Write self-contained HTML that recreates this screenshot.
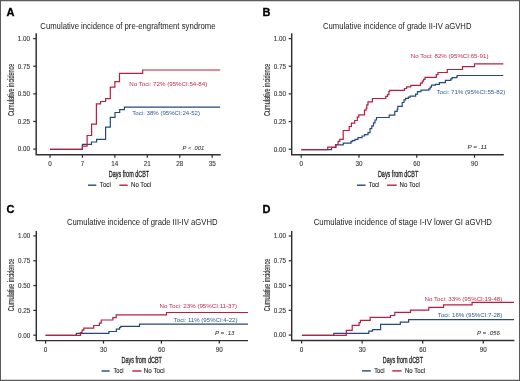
<!DOCTYPE html>
<html><head><meta charset="utf-8"><title>Cumulative incidence</title>
<style>
html,body{margin:0;padding:0;background:#fff;}
body{width:520px;height:381px;overflow:hidden;position:relative;font-family:"Liberation Sans", sans-serif;}
svg{position:absolute;left:0;top:0;filter:blur(0.45px);}
svg text{font-family:"Liberation Sans", sans-serif;}
</style></head><body>
<svg width="520" height="381" viewBox="0 0 520 381">
<rect x="0" y="0" width="520" height="381" fill="#fff"/>
<text x="6.4" y="15.9" font-size="10.2" font-weight="bold" fill="#000" stroke="#000" stroke-width="0.3" transform="translate(6.4,15.9) scale(1.08,1) translate(-6.4,-15.9)">A</text>
<text x="40.3" y="28.8" font-size="8.4" fill="#222" textLength="175.3" lengthAdjust="spacingAndGlyphs">Cumulative incidence of pre-engraftment syndrome</text>
<path d="M36.2,33.3 V154.8 H220.7" fill="none" stroke="#303030" stroke-width="1.45"/>
<path d="M33.2,149.1 H36.2" stroke="#303030" stroke-width="1.25"/>
<text x="30.1" y="151.4" font-size="6.3" fill="#3a3a3a" stroke="#3a3a3a" stroke-width="0.12" text-anchor="end">0.00</text>
<path d="M33.2,121.47 H36.2" stroke="#303030" stroke-width="1.25"/>
<text x="30.1" y="123.77" font-size="6.3" fill="#3a3a3a" stroke="#3a3a3a" stroke-width="0.12" text-anchor="end">0.25</text>
<path d="M33.2,93.85 H36.2" stroke="#303030" stroke-width="1.25"/>
<text x="30.1" y="96.15" font-size="6.3" fill="#3a3a3a" stroke="#3a3a3a" stroke-width="0.12" text-anchor="end">0.50</text>
<path d="M33.2,66.22 H36.2" stroke="#303030" stroke-width="1.25"/>
<text x="30.1" y="68.52" font-size="6.3" fill="#3a3a3a" stroke="#3a3a3a" stroke-width="0.12" text-anchor="end">0.75</text>
<path d="M33.2,38.6 H36.2" stroke="#303030" stroke-width="1.25"/>
<text x="30.1" y="40.9" font-size="6.3" fill="#3a3a3a" stroke="#3a3a3a" stroke-width="0.12" text-anchor="end">1.00</text>
<path d="M50,154.8 V157.8" stroke="#303030" stroke-width="1.25"/>
<text x="50" y="166" font-size="6.3" fill="#3a3a3a" stroke="#3a3a3a" stroke-width="0.12" text-anchor="middle">0</text>
<path d="M82.44,154.8 V157.8" stroke="#303030" stroke-width="1.25"/>
<text x="82.44" y="166" font-size="6.3" fill="#3a3a3a" stroke="#3a3a3a" stroke-width="0.12" text-anchor="middle">7</text>
<path d="M114.88,154.8 V157.8" stroke="#303030" stroke-width="1.25"/>
<text x="114.88" y="166" font-size="6.3" fill="#3a3a3a" stroke="#3a3a3a" stroke-width="0.12" text-anchor="middle">14</text>
<path d="M147.31,154.8 V157.8" stroke="#303030" stroke-width="1.25"/>
<text x="147.31" y="166" font-size="6.3" fill="#3a3a3a" stroke="#3a3a3a" stroke-width="0.12" text-anchor="middle">21</text>
<path d="M179.75,154.8 V157.8" stroke="#303030" stroke-width="1.25"/>
<text x="179.75" y="166" font-size="6.3" fill="#3a3a3a" stroke="#3a3a3a" stroke-width="0.12" text-anchor="middle">28</text>
<path d="M212.19,154.8 V157.8" stroke="#303030" stroke-width="1.25"/>
<text x="212.19" y="166" font-size="6.3" fill="#3a3a3a" stroke="#3a3a3a" stroke-width="0.12" text-anchor="middle">35</text>
<text x="108.8" y="177.3" font-size="8.7" font-weight="normal" fill="#2b2b2b" stroke="#2b2b2b" stroke-width="0.32" textLength="40.4" lengthAdjust="spacingAndGlyphs">Days from dCBT</text>
<text transform="translate(14.4,116) rotate(-90)" x="0" y="0" font-size="9.0" font-weight="normal" fill="#2b2b2b" stroke="#2b2b2b" stroke-width="0.15" textLength="52.4" lengthAdjust="spacingAndGlyphs">Cumulative incidence</text>
<path d="M50,149.4 H82.4 V144.4 H91.5 V142 H96.6 V139.4 H105.6 V127.2 H110.3 V117.4 H115 V112.5 H119.7 V109.7 H124.4 V107.2 H220.2" fill="none" stroke="#25497a" stroke-width="1.2"/>
<path d="M50,149.4 H82.4 V146.1 H87.1 V135.5 H91.6 V124.2 H96.4 V103.8 H100.6 V101.5 H105.6 V98.7 H110.3 V87.1 H114.9 V81.6 H119.5 V73.4 H142.7 V70.0 H220.2" fill="none" stroke="#b81e40" stroke-width="1.2"/>
<text x="129.2" y="85.7" font-size="6.15" fill="#c42a4c" textLength="78.1" lengthAdjust="spacingAndGlyphs">No Toci: 72% (95%CI:54-84)</text>
<text x="132.3" y="115.4" font-size="6.15" fill="#2d5a92" textLength="67.7" lengthAdjust="spacingAndGlyphs">Toci: 38% (95%CI:24-52)</text>
<text x="182.6" y="149.6" font-size="6.15" fill="#222" textLength="21.7" lengthAdjust="spacingAndGlyphs" font-style="italic">P &lt; .001</text>
<path d="M88,185.2 H96.3" stroke="#25497a" stroke-width="1.4"/>
<path d="M119.4,185.2 H127.7" stroke="#b81e40" stroke-width="1.4"/>
<text x="99.8" y="187.3" font-size="6.3" fill="#222" stroke="#222" stroke-width="0.1" textLength="11" lengthAdjust="spacingAndGlyphs">Toci</text>
<text x="131" y="187.3" font-size="6.3" fill="#222" stroke="#222" stroke-width="0.1" textLength="20.2" lengthAdjust="spacingAndGlyphs">No Toci</text>
<text x="262.4" y="15.9" font-size="10.2" font-weight="bold" fill="#000" stroke="#000" stroke-width="0.3" transform="translate(262.4,15.9) scale(1.08,1) translate(-262.4,-15.9)">B</text>
<text x="323" y="28.8" font-size="8.4" fill="#222" textLength="148.5" lengthAdjust="spacingAndGlyphs">Cumulative incidence of grade II-IV aGVHD</text>
<path d="M291.7,33.3 V154.8 H503.8" fill="none" stroke="#303030" stroke-width="1.45"/>
<path d="M288.7,149.2 H291.7" stroke="#303030" stroke-width="1.25"/>
<text x="286.1" y="151.5" font-size="6.3" fill="#3a3a3a" stroke="#3a3a3a" stroke-width="0.12" text-anchor="end">0.00</text>
<path d="M288.7,121.55 H291.7" stroke="#303030" stroke-width="1.25"/>
<text x="286.1" y="123.85" font-size="6.3" fill="#3a3a3a" stroke="#3a3a3a" stroke-width="0.12" text-anchor="end">0.25</text>
<path d="M288.7,93.9 H291.7" stroke="#303030" stroke-width="1.25"/>
<text x="286.1" y="96.2" font-size="6.3" fill="#3a3a3a" stroke="#3a3a3a" stroke-width="0.12" text-anchor="end">0.50</text>
<path d="M288.7,66.25 H291.7" stroke="#303030" stroke-width="1.25"/>
<text x="286.1" y="68.55" font-size="6.3" fill="#3a3a3a" stroke="#3a3a3a" stroke-width="0.12" text-anchor="end">0.75</text>
<path d="M288.7,38.6 H291.7" stroke="#303030" stroke-width="1.25"/>
<text x="286.1" y="40.9" font-size="6.3" fill="#3a3a3a" stroke="#3a3a3a" stroke-width="0.12" text-anchor="end">1.00</text>
<path d="M301.2,154.8 V157.8" stroke="#303030" stroke-width="1.25"/>
<text x="301.2" y="166" font-size="6.3" fill="#3a3a3a" stroke="#3a3a3a" stroke-width="0.12" text-anchor="middle">0</text>
<path d="M358.97,154.8 V157.8" stroke="#303030" stroke-width="1.25"/>
<text x="358.97" y="166" font-size="6.3" fill="#3a3a3a" stroke="#3a3a3a" stroke-width="0.12" text-anchor="middle">30</text>
<path d="M416.74,154.8 V157.8" stroke="#303030" stroke-width="1.25"/>
<text x="416.74" y="166" font-size="6.3" fill="#3a3a3a" stroke="#3a3a3a" stroke-width="0.12" text-anchor="middle">60</text>
<path d="M474.5,154.8 V157.8" stroke="#303030" stroke-width="1.25"/>
<text x="474.5" y="166" font-size="6.3" fill="#3a3a3a" stroke="#3a3a3a" stroke-width="0.12" text-anchor="middle">90</text>
<text x="377.9" y="177.3" font-size="8.7" font-weight="normal" fill="#2b2b2b" stroke="#2b2b2b" stroke-width="0.32" textLength="40.4" lengthAdjust="spacingAndGlyphs">Days from dCBT</text>
<text transform="translate(269.5,116) rotate(-90)" x="0" y="0" font-size="9.0" font-weight="normal" fill="#2b2b2b" stroke="#2b2b2b" stroke-width="0.15" textLength="52.4" lengthAdjust="spacingAndGlyphs">Cumulative incidence</text>
<path d="M301.3,149.6 H331.6 V147.5 H336 V144.9 H343.2 V143.2 H351 V141.6 H352.2 V140.6 H355 V139.3 H358 V137.6 H362 V136 H364.6 V134.6 H368 V132.6 H370 V128.7 H371.8 V125.8 H373.5 V122.8 H375 V120 H376.5 V117.5 H389.2 V115.1 H394.8 V111.3 H397.2 V109.2 H397.8 V106.3 H402.2 V102.5 H404 V99.8 H405.6 V98.4 H408.4 V97.2 H410.2 V96.2 H415.6 V94.2 H417.5 V91.7 H421 V90.2 H428.9 V88.8 H430.2 V87.2 H431.5 V85.2 H435.4 V84.3 H439.4 V82.6 H445.4 V80.3 H450.8 V78.9 H452.1 V77.6 H456.8 V76.9 H457.2 V75.5 H503.3" fill="none" stroke="#25497a" stroke-width="1.2"/>
<path d="M301.3,149.6 H327.7 V147.1 H335.5 V144.5 H338.1 V141.4 H339.8 V139.3 H343.2 V130.5 H349.2 V126.5 H351.4 V123.2 H354.7 V120.5 H357.3 V117.2 H358.8 V114.9 H364.5 V110.1 H366.2 V108.4 H366.8 V104.8 H368 V101.9 H372.4 V98.5 H385.7 V96.3 H387.5 V94.6 H388.9 V91.5 H389.7 V90.4 H404.5 V88.5 H406.6 V86.8 H410.8 V85.4 H420.5 V83.2 H422.3 V81.2 H423.6 V79.3 H425 V77.3 H436.3 V74.7 H438 V72.5 H447.3 V69.5 H462.5 V66.7 H474.5 V63.9 H503.3" fill="none" stroke="#b81e40" stroke-width="1.2"/>
<text x="410.7" y="58.1" font-size="6.15" fill="#c42a4c" textLength="77.8" lengthAdjust="spacingAndGlyphs">No Toci: 82% (95%CI:65-91)</text>
<text x="436.5" y="94.3" font-size="6.15" fill="#2d5a92" textLength="68.8" lengthAdjust="spacingAndGlyphs">Toci: 71% (95%CI:55-82)</text>
<text x="467.5" y="149.2" font-size="6.15" fill="#222" textLength="19.5" lengthAdjust="spacingAndGlyphs" font-style="italic">P = .11</text>
<path d="M356.9,185.2 H365.6" stroke="#25497a" stroke-width="1.4"/>
<path d="M387.1,185.2 H396.7" stroke="#b81e40" stroke-width="1.4"/>
<text x="368.8" y="187.3" font-size="6.3" fill="#222" stroke="#222" stroke-width="0.1" textLength="10.6" lengthAdjust="spacingAndGlyphs">Toci</text>
<text x="399.6" y="187.3" font-size="6.3" fill="#222" stroke="#222" stroke-width="0.1" textLength="20.2" lengthAdjust="spacingAndGlyphs">No Toci</text>
<text x="6.4" y="212.7" font-size="10.2" font-weight="bold" fill="#000" stroke="#000" stroke-width="0.3" transform="translate(6.4,212.7) scale(1.08,1) translate(-6.4,-212.7)">C</text>
<text x="67" y="225" font-size="8.4" fill="#222" textLength="150.5" lengthAdjust="spacingAndGlyphs">Cumulative incidence of grade III-IV aGVHD</text>
<path d="M36.3,230.9 V340.6 H248" fill="none" stroke="#303030" stroke-width="1.45"/>
<path d="M33.3,335.2 H36.3" stroke="#303030" stroke-width="1.25"/>
<text x="30.2" y="337.5" font-size="6.3" fill="#3a3a3a" stroke="#3a3a3a" stroke-width="0.12" text-anchor="end">0.00</text>
<path d="M33.3,310.38 H36.3" stroke="#303030" stroke-width="1.25"/>
<text x="30.2" y="312.68" font-size="6.3" fill="#3a3a3a" stroke="#3a3a3a" stroke-width="0.12" text-anchor="end">0.25</text>
<path d="M33.3,285.55 H36.3" stroke="#303030" stroke-width="1.25"/>
<text x="30.2" y="287.85" font-size="6.3" fill="#3a3a3a" stroke="#3a3a3a" stroke-width="0.12" text-anchor="end">0.50</text>
<path d="M33.3,260.73 H36.3" stroke="#303030" stroke-width="1.25"/>
<text x="30.2" y="263.03" font-size="6.3" fill="#3a3a3a" stroke="#3a3a3a" stroke-width="0.12" text-anchor="end">0.75</text>
<path d="M33.3,235.9 H36.3" stroke="#303030" stroke-width="1.25"/>
<text x="30.2" y="238.2" font-size="6.3" fill="#3a3a3a" stroke="#3a3a3a" stroke-width="0.12" text-anchor="end">1.00</text>
<path d="M45.6,340.6 V343.6" stroke="#303030" stroke-width="1.25"/>
<text x="45.6" y="351.9" font-size="6.3" fill="#3a3a3a" stroke="#3a3a3a" stroke-width="0.12" text-anchor="middle">0</text>
<path d="M103.5,340.6 V343.6" stroke="#303030" stroke-width="1.25"/>
<text x="103.5" y="351.9" font-size="6.3" fill="#3a3a3a" stroke="#3a3a3a" stroke-width="0.12" text-anchor="middle">30</text>
<path d="M161.4,340.6 V343.6" stroke="#303030" stroke-width="1.25"/>
<text x="161.4" y="351.9" font-size="6.3" fill="#3a3a3a" stroke="#3a3a3a" stroke-width="0.12" text-anchor="middle">60</text>
<path d="M219.3,340.6 V343.6" stroke="#303030" stroke-width="1.25"/>
<text x="219.3" y="351.9" font-size="6.3" fill="#3a3a3a" stroke="#3a3a3a" stroke-width="0.12" text-anchor="middle">90</text>
<text x="121.5" y="363.4" font-size="8.7" font-weight="normal" fill="#2b2b2b" stroke="#2b2b2b" stroke-width="0.32" textLength="40.4" lengthAdjust="spacingAndGlyphs">Days from dCBT</text>
<text transform="translate(14.4,311.2) rotate(-90)" x="0" y="0" font-size="9.0" font-weight="normal" fill="#2b2b2b" stroke="#2b2b2b" stroke-width="0.15" textLength="52.4" lengthAdjust="spacingAndGlyphs">Cumulative incidence</text>
<path d="M45.6,335.4 H76.3 V333.3 H108.9 V331.5 H116.4 V329.2 H119.6 V327.5 H120.8 V326.3 H139.5 V324.2 H248" fill="none" stroke="#25497a" stroke-width="1.2"/>
<path d="M45.6,335.4 H80.5 V332.7 H82.1 V330.2 H83.8 V328.1 H93.7 V325.5 H99.4 V323.2 H101.2 V320 H112.9 V317.6 H116.2 V314.8 H166.5 V312.5 H248" fill="none" stroke="#b81e40" stroke-width="1.2"/>
<text x="159.5" y="307.5" font-size="6.15" fill="#c42a4c" textLength="77.5" lengthAdjust="spacingAndGlyphs">No Toci: 23% (95%CI:11-37)</text>
<text x="173.75" y="322" font-size="6.15" fill="#2d5a92" textLength="63.75" lengthAdjust="spacingAndGlyphs">Toci: 11% (95%CI:4-22)</text>
<text x="215" y="334.7" font-size="6.15" fill="#222" textLength="19.5" lengthAdjust="spacingAndGlyphs" font-style="italic">P = .13</text>
<path d="M101.5,371 H109.7" stroke="#25497a" stroke-width="1.4"/>
<path d="M132.3,371 H141.5" stroke="#b81e40" stroke-width="1.4"/>
<text x="113.4" y="373.1" font-size="6.3" fill="#222" stroke="#222" stroke-width="0.1" textLength="10.1" lengthAdjust="spacingAndGlyphs">Toci</text>
<text x="143.8" y="373.1" font-size="6.3" fill="#222" stroke="#222" stroke-width="0.1" textLength="20.8" lengthAdjust="spacingAndGlyphs">No Toci</text>
<text x="262.4" y="212.7" font-size="10.2" font-weight="bold" fill="#000" stroke="#000" stroke-width="0.3" transform="translate(262.4,212.7) scale(1.08,1) translate(-262.4,-212.7)">D</text>
<text x="313.75" y="225" font-size="8.4" fill="#222" textLength="178.25" lengthAdjust="spacingAndGlyphs">Cumulative incidence of stage I-IV lower GI aGVHD</text>
<path d="M291.7,230.9 V340.5 H514.4" fill="none" stroke="#303030" stroke-width="1.45"/>
<path d="M288.7,335.1 H291.7" stroke="#303030" stroke-width="1.25"/>
<text x="286.1" y="337.4" font-size="6.3" fill="#3a3a3a" stroke="#3a3a3a" stroke-width="0.12" text-anchor="end">0.00</text>
<path d="M288.7,310.33 H291.7" stroke="#303030" stroke-width="1.25"/>
<text x="286.1" y="312.63" font-size="6.3" fill="#3a3a3a" stroke="#3a3a3a" stroke-width="0.12" text-anchor="end">0.25</text>
<path d="M288.7,285.55 H291.7" stroke="#303030" stroke-width="1.25"/>
<text x="286.1" y="287.85" font-size="6.3" fill="#3a3a3a" stroke="#3a3a3a" stroke-width="0.12" text-anchor="end">0.50</text>
<path d="M288.7,260.77 H291.7" stroke="#303030" stroke-width="1.25"/>
<text x="286.1" y="263.07" font-size="6.3" fill="#3a3a3a" stroke="#3a3a3a" stroke-width="0.12" text-anchor="end">0.75</text>
<path d="M288.7,236 H291.7" stroke="#303030" stroke-width="1.25"/>
<text x="286.1" y="238.3" font-size="6.3" fill="#3a3a3a" stroke="#3a3a3a" stroke-width="0.12" text-anchor="end">1.00</text>
<path d="M301.6,340.5 V343.5" stroke="#303030" stroke-width="1.25"/>
<text x="301.6" y="351.7" font-size="6.3" fill="#3a3a3a" stroke="#3a3a3a" stroke-width="0.12" text-anchor="middle">0</text>
<path d="M362.17,340.5 V343.5" stroke="#303030" stroke-width="1.25"/>
<text x="362.17" y="351.7" font-size="6.3" fill="#3a3a3a" stroke="#3a3a3a" stroke-width="0.12" text-anchor="middle">30</text>
<path d="M422.74,340.5 V343.5" stroke="#303030" stroke-width="1.25"/>
<text x="422.74" y="351.7" font-size="6.3" fill="#3a3a3a" stroke="#3a3a3a" stroke-width="0.12" text-anchor="middle">60</text>
<path d="M483.31,340.5 V343.5" stroke="#303030" stroke-width="1.25"/>
<text x="483.31" y="351.7" font-size="6.3" fill="#3a3a3a" stroke="#3a3a3a" stroke-width="0.12" text-anchor="middle">90</text>
<text x="382.7" y="363.4" font-size="8.7" font-weight="normal" fill="#2b2b2b" stroke="#2b2b2b" stroke-width="0.32" textLength="40.4" lengthAdjust="spacingAndGlyphs">Days from dCBT</text>
<text transform="translate(269.5,311.2) rotate(-90)" x="0" y="0" font-size="9.0" font-weight="normal" fill="#2b2b2b" stroke="#2b2b2b" stroke-width="0.15" textLength="52.4" lengthAdjust="spacingAndGlyphs">Cumulative incidence</text>
<path d="M301.9,335.3 H333.8 V333.3 H368.8 V331.2 H372.5 V329.6 H380.6 V324.4 H400.3 V322.1 H408.6 V319.6 H514" fill="none" stroke="#25497a" stroke-width="1.2"/>
<path d="M301.9,335.3 H346.3 V330.4 H352.2 V325.4 H359.1 V322.6 H360.4 V320.3 H370.2 V317.4 H390.5 V315.5 H394.8 V312.4 H410.5 V310.1 H428.8 V307.3 H443.6 V304.8 H472.1 V302.3 H514" fill="none" stroke="#b81e40" stroke-width="1.2"/>
<text x="424.5" y="300.5" font-size="6.15" fill="#c42a4c" textLength="77.8" lengthAdjust="spacingAndGlyphs">No Toci: 33% (95%CI:19-48)</text>
<text x="437.8" y="317.4" font-size="6.15" fill="#2d5a92" textLength="64.5" lengthAdjust="spacingAndGlyphs">Toci: 16% (95%CI:7-28)</text>
<text x="477" y="334.7" font-size="6.15" fill="#222" textLength="23" lengthAdjust="spacingAndGlyphs" font-style="italic">P = .056</text>
<path d="M362.1,370.9 H370.8" stroke="#25497a" stroke-width="1.4"/>
<path d="M392.3,370.9 H401.5" stroke="#b81e40" stroke-width="1.4"/>
<text x="374.2" y="373" font-size="6.3" fill="#222" stroke="#222" stroke-width="0.1" textLength="10.4" lengthAdjust="spacingAndGlyphs">Toci</text>
<text x="405" y="373" font-size="6.3" fill="#222" stroke="#222" stroke-width="0.1" textLength="20" lengthAdjust="spacingAndGlyphs">No Toci</text>
<path d="M0.5,0 V381 M519.5,0 V381" stroke="#5c5c5c" stroke-width="1.05" fill="none"/>
<path d="M0,0.6 H520 M0,380.4 H520" stroke="#5c5c5c" stroke-width="1.2" fill="none"/>
</svg>
</body></html>
